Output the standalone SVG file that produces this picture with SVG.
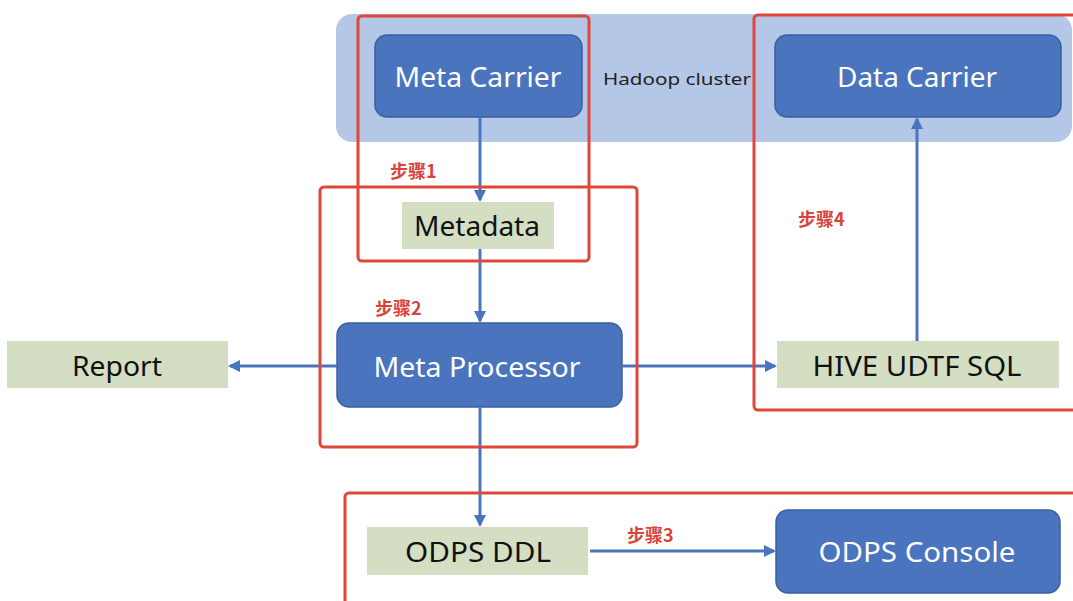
<svg xmlns="http://www.w3.org/2000/svg" width="1073" height="601" viewBox="0 0 1073 601">
<style>
.bg{fill:#ffffff}
.cluster{fill:#b4c7e7}
.blue{fill:#4a74bd;stroke:#3a5f9e;stroke-width:1.5}
.green{fill:#d3dec2}
.red{fill:none;stroke:#e0463a;stroke-width:3}
.wt{font-family:"Noto Sans","Liberation Sans",sans-serif;font-size:27px;fill:#ffffff;text-anchor:middle}
.bt{font-family:"Noto Sans","Liberation Sans",sans-serif;font-size:27px;fill:#111111;text-anchor:middle}
.step{font-family:"Noto Sans CJK SC",sans-serif;font-size:18px;fill:#d9443a;font-weight:bold}
.lbl{font-family:"Noto Sans","Liberation Sans",sans-serif;font-size:17px;fill:#222222}
.conn{stroke:#4a74bd;stroke-width:3;fill:none}
</style>
<defs>
<marker id="ah" markerWidth="12" markerHeight="12" refX="10" refY="6" orient="auto" markerUnits="userSpaceOnUse">
<path d="M0,0 L12,6 L0,12 Z" fill="#4a74bd"/>
</marker>
</defs>
<rect class="bg" x="0" y="0" width="1073" height="601"/>
<g id="cluster">
<rect class="cluster" x="336" y="14" width="736" height="128" rx="16"/>
<text class="lbl" x="603" y="85" textLength="148" lengthAdjust="spacingAndGlyphs">Hadoop cluster</text>
</g>
<g id="meta-carrier">
<rect class="blue" x="375" y="35" width="207" height="82" rx="12"/>
<text class="wt" x="478" y="87" textLength="167" lengthAdjust="spacingAndGlyphs">Meta Carrier</text>
</g>
<g id="data-carrier">
<rect class="blue" x="775" y="35" width="286" height="82" rx="12"/>
<text class="wt" x="917" y="87" textLength="160" lengthAdjust="spacingAndGlyphs">Data Carrier</text>
</g>
<g id="metadata">
<rect class="green" x="402" y="202" width="152" height="47"/>
<text class="bt" x="477" y="236" textLength="126" lengthAdjust="spacingAndGlyphs">Metadata</text>
</g>
<g id="meta-processor">
<rect class="blue" x="337" y="323" width="285" height="84" rx="12"/>
<text class="wt" x="477" y="377" textLength="207" lengthAdjust="spacingAndGlyphs">Meta Processor</text>
</g>
<g id="report">
<rect class="green" x="7" y="341" width="221" height="47"/>
<text class="bt" x="117" y="376" textLength="90" lengthAdjust="spacingAndGlyphs">Report</text>
</g>
<g id="hive">
<rect class="green" x="777" y="341" width="282" height="47"/>
<text class="bt" x="917" y="376" textLength="209" lengthAdjust="spacingAndGlyphs">HIVE UDTF SQL</text>
</g>
<g id="odps-ddl">
<rect class="green" x="367" y="527" width="221" height="48"/>
<text class="bt" x="478" y="562" textLength="146" lengthAdjust="spacingAndGlyphs">ODPS DDL</text>
</g>
<g id="odps-console">
<rect class="blue" x="776" y="510" width="284" height="83" rx="12"/>
<text class="wt" x="917" y="562" textLength="197" lengthAdjust="spacingAndGlyphs">ODPS Console</text>
</g>
<g id="connectors">
<line class="conn" x1="480" y1="117" x2="480" y2="200" marker-end="url(#ah)"/>
<line class="conn" x1="480" y1="249" x2="480" y2="321" marker-end="url(#ah)"/>
<line class="conn" x1="337" y1="366" x2="230" y2="366" marker-end="url(#ah)"/>
<line class="conn" x1="622" y1="366" x2="775" y2="366" marker-end="url(#ah)"/>
<line class="conn" x1="917" y1="341" x2="917" y2="119" marker-end="url(#ah)"/>
<line class="conn" x1="480" y1="407" x2="480" y2="525" marker-end="url(#ah)"/>
<line class="conn" x1="590" y1="551" x2="774" y2="551" marker-end="url(#ah)"/>
</g>
<g id="steps">
<rect class="red" x="358" y="16" width="231" height="245" rx="4"/>
<rect class="red" x="320" y="187" width="317" height="260" rx="4"/>
<rect class="red" x="754" y="15" width="330" height="395" rx="4"/>
<rect class="red" x="345" y="493" width="740" height="120" rx="4"/>
<text class="step" x="390" y="178">步骤1</text>
<text class="step" x="375" y="315">步骤2</text>
<text class="step" x="627" y="542">步骤3</text>
<text class="step" x="798" y="226">步骤4</text>
</g>
</svg>
